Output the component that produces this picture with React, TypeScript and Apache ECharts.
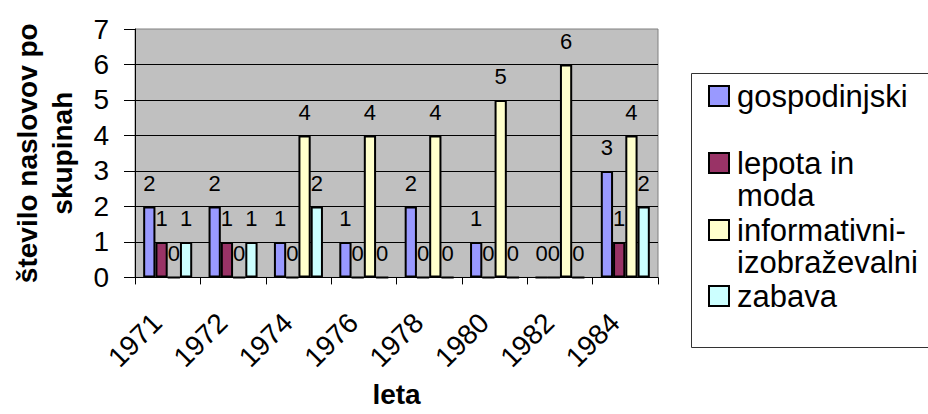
import React, { useEffect, useRef } from "react";
import * as echarts from "echarts";

// Categories (years) and per-group title counts
const years = ["1971", "1972", "1974", "1976", "1978", "1980", "1982", "1984"];
const seriesNames = ["gospodinjski", "lepota in\nmoda", "informativni-\nizobraževalni", "zabava"];
const gospodinjski = [2, 2, 1, 1, 2, 1, 0, 3];
const lepotaInModa = [1, 1, 0, 0, 0, 0, 0, 1];
const informativni = [0, 0, 4, 4, 4, 5, 6, 4];
const zabava = [1, 1, 2, 0, 0, 0, 0, 2];
const seriesColors = ["#9999FF", "#993366", "#FFFFCC", "#CCFFFF"];
const yTicks = [0, 7, 1]; // min, max, interval

const FONT = "'Liberation Sans', Arial, sans-serif";

export default function App() {
  const ref = useRef<HTMLDivElement>(null);

  useEffect(() => {
    document.body.style.margin = "0";
    if (!ref.current) return;
    const chart = echarts.init(ref.current, null, { renderer: "svg" });
    const values = [gospodinjski, lepotaInModa, informativni, zabava];

    // boxed legend, icon aligned with the first line of each entry
    const legendTop = [86, 153, 220, 286];
    const lineH = 32;
    const legendItems: any[] = [
      {
        type: "rect",
        shape: { x: 691.5, y: 73.5, width: 260, height: 274 },
        style: { fill: "#fff", stroke: "#333", lineWidth: 1 },
        z: 0,
      },
    ];
    seriesNames.forEach((name, i) => {
      legendItems.push({
        type: "rect",
        shape: { x: 709, y: legendTop[i], width: 20, height: 20 },
        style: { fill: seriesColors[i], stroke: "#000", lineWidth: 2 },
        z: 1,
      });
      legendItems.push({
        type: "text",
        x: 737,
        y: legendTop[i] + 10 - lineH / 2,
        style: {
          text: name,
          fontFamily: FONT,
          fontSize: 31,
          lineHeight: lineH,
          fill: "#000",
          align: "left",
          verticalAlign: "top",
        },
        z: 1,
      });
    });

    chart.setOption({
      animation: false,
      backgroundColor: "#fff",
      grid: {
        left: 135,
        right: 270,
        top: 29,
        bottom: 133,
        show: true,
        backgroundColor: "#C0C0C0",
        borderColor: "#808080",
        borderWidth: 1,
      },
      xAxis: {
        type: "category",
        data: years,
        name: "leta",
        nameLocation: "middle",
        nameGap: 101,
        nameTextStyle: { fontFamily: FONT, fontSize: 28, fontWeight: "bold", color: "#000", lineHeight: 30 },
        axisLine: { lineStyle: { color: "#000", width: 1 } },
        axisTick: { show: true, length: 7, lineStyle: { color: "#000" } },
        axisLabel: {
          rotate: 45,
          margin: 30,
          padding: [0, 15, 0, 0],
          fontFamily: FONT,
          fontSize: 28,
          color: "#000",
          interval: 0,
        },
        splitLine: { show: false },
      },
      yAxis: {
        type: "value",
        min: yTicks[0],
        max: yTicks[1],
        interval: yTicks[2],
        name: "število naslovov po\nskupinah",
        nameLocation: "middle",
        nameGap: 55,
        nameTextStyle: { fontFamily: FONT, fontSize: 28, fontWeight: "bold", color: "#000", lineHeight: 35 },
        axisLine: { show: true, lineStyle: { color: "#000", width: 1 } },
        axisTick: { show: true, length: 11, lineStyle: { color: "#000" } },
        axisLabel: { margin: 26, fontFamily: FONT, fontSize: 28, color: "#000" },
        splitLine: { show: true, showMinLine: false, showMaxLine: false, lineStyle: { color: "#000", width: 1 } },
      },
      series: values.map((data, i) => ({
        type: "bar",
        name: seriesNames[i],
        data,
        barGap: "0%",
        barCategoryGap: "25%",
        itemStyle: { color: seriesColors[i], borderColor: "#000", borderWidth: 2 },
        label: {
          show: true,
          position: "top",
          distance: 12,
          fontFamily: FONT,
          fontSize: 22,
          color: "#000",
        },
      })),
      graphic: legendItems,
    });

    return () => chart.dispose();
  }, []);

  return <div ref={ref} style={{ width: 928, height: 414 }} />;
}
